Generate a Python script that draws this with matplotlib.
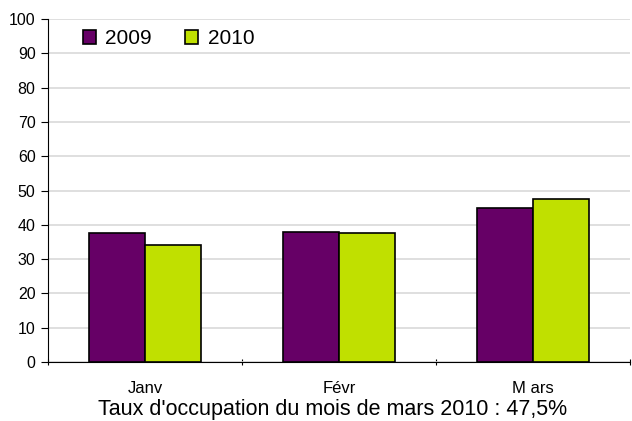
import matplotlib.pyplot as plt
import numpy as np

plt.rcParams['font.family'] = ['Liberation Sans', 'DejaVu Sans']

months = ['Janv', 'Févr', 'M ars']
v2009 = [37.6, 38.0, 45.0]
v2010 = [34.0, 37.5, 47.5]

fig = plt.figure(figsize=(6.32, 4.21), dpi=100)
ax = fig.add_axes([0.076, 0.140, 0.921, 0.815])

x = np.arange(len(months))
w = 0.29
ax.bar(x - w / 2, v2009, w, color='#660066', edgecolor='black', linewidth=1.2, label='2009', zorder=3)
ax.bar(x + w / 2, v2010, w, color='#c0e000', edgecolor='black', linewidth=1.2, label='2010', zorder=3)

ax.set_xlim(-0.5, 2.5)
ax.set_ylim(0, 100)
ax.set_yticks(range(0, 101, 10))
ax.tick_params(axis='y', labelsize=11.5, length=5, direction='out', pad=4)
ax.yaxis.grid(True, color='#d9d9d9', linewidth=1.2, zorder=0)

ax.set_xticks([-0.5, 0.5, 1.5, 2.5])
ax.set_xticklabels([])
ax.tick_params(axis='x', length=5, direction='inout')
for i, m in enumerate(months):
    ax.text(i, -5.5, m, ha='center', va='top', fontsize=12)

fig.text(333 / 632, 0.027, "Taux d'occupation du mois de mars 2010 : 47,5%",
         ha='center', va='center', fontsize=15.5)

for s in ['top', 'right']:
    ax.spines[s].set_visible(False)
ax.spines['left'].set_color('black')
ax.spines['bottom'].set_color('black')

ax.legend(loc='upper left', bbox_to_anchor=(0.028, 1.025), ncol=2, frameon=False,
          handlelength=0.62, handleheight=0.62, columnspacing=1.6,
          handletextpad=0.45, prop={'size': 15})

fig.savefig('out.png', dpi=100)
